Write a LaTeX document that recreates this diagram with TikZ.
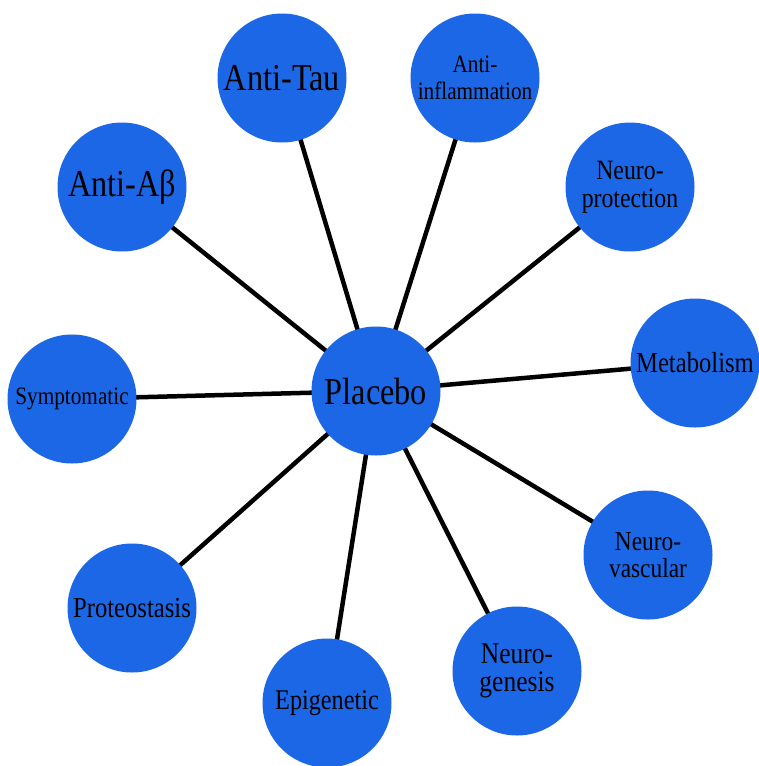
\documentclass[tikz,border=0pt]{standalone}
\usepackage{fontspec}
\setmainfont[FakeStretch=0.85]{Liberation Serif}
\usetikzlibrary{backgrounds}
\definecolor{nodeblue}{RGB}{28,103,230}

\begin{document}
\begin{tikzpicture}[x=1pt,y=-1pt,
    hub/.style={circle,fill=nodeblue,minimum size=129pt,inner sep=0pt,align=center,text=black},
    big/.style={font=\fontsize{38}{40}\selectfont},
    spoke/.style={line width=4.5pt,black}]
        \useasboundingbox (0,0) rectangle (759,766);
        % centre
        \node[hub,big] (placebo) at (376,391) {Placebo};
        % outer ring
        \node[hub,big] (antitau) at (282,78) {Anti-Tau};
        \node[hub,big] (antiab) at (122,187) {Anti-Aβ};
        \node[hub,font=\fontsize{25}{27}\selectfont] (antiinfl) at (475,78) {Anti-\\inflammation};
        \node[hub,font=\fontsize{28}{28}\selectfont] (neuroprot) at (630,187) {Neuro-\\protection};
        \node[hub,font=\fontsize{29}{31}\selectfont] (metab) at (695,363) {Metabolism};
        \node[hub,font=\fontsize{27.5}{27}\selectfont] (neurovasc) at (648,555) {Neuro-\\vascular};
        \node[hub,font=\fontsize{30}{28.5}\selectfont] (neurogen) at (517,671) {Neuro-\\genesis};
        \node[hub,font=\fontsize{28.5}{30}\selectfont] (epigen) at (327,703) {Epigenetic};
        \node[hub,font=\fontsize{29}{31}\selectfont] (proteo) at (132,608) {Proteostasis};
        \node[hub,font=\fontsize{25}{27}\selectfont] (sympt) at (72,399) {Symptomatic};
        \begin{scope}[on background layer]
            \foreach \n in {antitau,antiab,antiinfl,neuroprot,metab,neurovasc,neurogen,epigen,proteo,sympt} {
                \draw[spoke] (placebo.center) -- (\n.center);
            }
        \end{scope}
\end{tikzpicture}
\end{document}
